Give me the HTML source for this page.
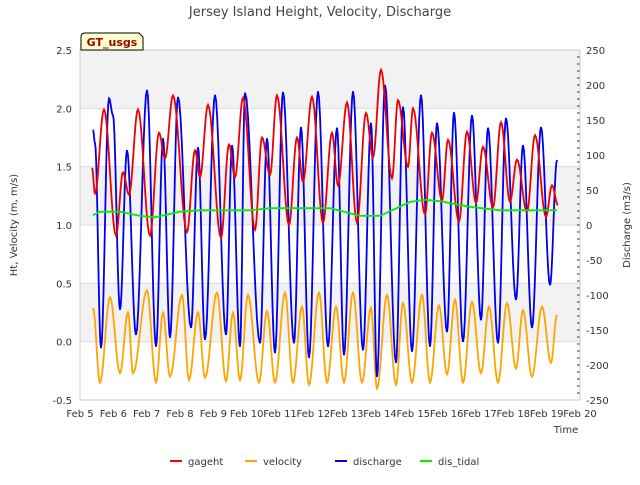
<!DOCTYPE html>
<html><head><meta charset="utf-8"><style>
body{margin:0;background:#fff;font-family:"Liberation Sans",sans-serif;}
svg text{font-family:"DejaVu Sans","Liberation Sans",sans-serif;}
</style></head><body>
<svg id="c" width="640" height="480" xmlns="http://www.w3.org/2000/svg">
<g id="bg"></g><g id="grid"></g><g id="series"></g><g id="axes"></g>
<text x="320" y="16" text-anchor="middle" font-size="13" fill="#444">Jersey Island Height, Velocity, Discharge</text>
<text transform="translate(17,225) rotate(-90)" text-anchor="middle" font-size="10" fill="#333">Ht, Velocity (m, m/s)</text>
<text transform="translate(630,225) rotate(-90)" text-anchor="middle" font-size="10" fill="#333">Discharge (m3/s)</text>
<text x="566" y="433" text-anchor="middle" font-size="10" fill="#333">Time</text>
<g>
<path d="M81,50 L81,37 Q81,33 85,33 L139,33 L143,37 L143,50 Z" fill="#ffffcc" stroke="#000" stroke-width="1"/>
<text x="112" y="46" text-anchor="middle" font-size="11" font-weight="bold" fill="#990000">GT_usgs</text></g>
<g id="legend"></g>
</svg>
<script>
const gagehtT=[5.36,5.45,5.72,6.08,6.29,6.47,6.74,7.10,7.37,7.55,7.79,8.21,8.45,8.60,8.84,9.23,9.47,9.65,9.89,10.25,10.46,10.70,10.91,11.27,11.51,11.69,11.96,12.29,12.56,12.74,13.01,13.31,13.58,13.79,14.03,14.36,14.54,14.84,14.99,15.35,15.56,15.86,16.04,16.37,16.61,16.88,17.09,17.39,17.63,17.90,18.11,18.41,18.65,18.98,19.16,19.34];
const gagehtV=[1.49,1.27,1.99,0.91,1.45,1.26,1.99,0.91,1.79,1.57,2.11,0.94,1.64,1.41,2.03,0.89,1.69,1.41,2.09,0.96,1.75,1.43,2.11,1.00,1.75,1.37,2.10,1.02,1.79,1.34,2.05,1.02,1.96,1.58,2.33,1.40,2.07,1.50,2.00,1.09,1.79,1.21,1.73,1.03,1.80,1.19,1.67,1.15,1.88,1.20,1.56,1.11,1.77,1.07,1.34,1.17];
const dischargeT=[5.39,5.45,5.63,5.87,5.99,6.20,6.41,6.68,7.01,7.28,7.49,7.70,7.94,8.33,8.54,8.75,9.05,9.38,9.56,9.80,9.95,10.40,10.61,10.85,11.09,11.42,11.63,11.87,12.14,12.44,12.71,12.92,13.19,13.49,13.73,13.91,14.15,14.48,14.69,14.96,15.23,15.50,15.71,16.01,16.22,16.49,16.76,17.03,17.24,17.54,17.78,18.08,18.29,18.56,18.83,19.10,19.31];
const dischargeV=[136,117,-176,181,157,-121,107,-157,193,-174,124,-161,183,-147,111,-164,186,-157,114,-174,189,-169,124,-183,190,-169,140,-190,191,-174,139,-186,191,-179,146,-217,200,-197,169,-181,186,-174,146,-153,161,-167,157,-136,139,-169,153,-107,114,-147,140,-86,93];
const velocityT=[5.39,5.60,5.90,6.20,6.44,6.59,7.01,7.28,7.49,7.70,8.06,8.27,8.54,8.75,9.11,9.38,9.59,9.80,10.04,10.37,10.61,10.85,11.15,11.39,11.66,11.87,12.17,12.41,12.68,12.92,13.19,13.46,13.73,13.91,14.21,14.48,14.69,14.96,15.26,15.50,15.77,16.01,16.25,16.49,16.76,17.03,17.27,17.54,17.81,18.08,18.29,18.56,18.86,19.13,19.31];
const velocityV=[0.29,-0.35,0.38,-0.27,0.25,-0.27,0.44,-0.35,0.25,-0.30,0.40,-0.33,0.25,-0.31,0.42,-0.34,0.25,-0.33,0.40,-0.35,0.26,-0.35,0.42,-0.35,0.30,-0.37,0.42,-0.35,0.30,-0.35,0.42,-0.35,0.29,-0.40,0.40,-0.37,0.33,-0.35,0.40,-0.35,0.31,-0.28,0.36,-0.35,0.34,-0.27,0.30,-0.35,0.33,-0.23,0.27,-0.30,0.30,-0.18,0.23];
const tidalT=[5.39,5.60,6.20,6.80,7.25,8.00,8.60,10.10,10.70,12.50,13.40,14.00,14.90,15.35,15.80,16.70,17.60,19.31];
const tidalV=[14,19,19,13,11,19,21,21,24,24,13,13,33,36,34,26,21,21];
const leftTicks=[-0.5,0,0.5,1,1.5,2,2.5];
const rightTicks=[-250,-200,-150,-100,-50,0,50,100,150,200,250];
const xTicks=[5,6,7,8,9,10,11,12,13,14,15,16,17,18,19,20];

const L=80,R=580,T=50,B=400,NS='http://www.w3.org/2000/svg';
const X=d=>L+(d-5)/15*(R-L);
const YL=v=>B-(v+0.5)/3*(B-T);
const YR=v=>B-(v+250)/500*(B-T);
function mk(tag,attrs,parent){const e=document.createElementNS(NS,tag);for(const k in attrs)e.setAttribute(k,attrs[k]);document.getElementById(parent).appendChild(e);return e;}

for(let i=0;i<6;i++){const lo=-0.5+i*0.5,hi=lo+0.5;if(i%2===1){const r=mk('rect',{x:L,y:YL(hi),width:R-L,height:YL(lo)-YL(hi),fill:'#f2f2f2'},'bg');

}}
leftTicks.forEach(v=>{const l=mk('line',{x1:L,x2:R,y1:YL(v),y2:YL(v),stroke:'#dcdcdc','stroke-width':1},'grid');


const t=mk('text',{x:L-8,y:YL(v)+4,'text-anchor':'end','font-size':10,fill:'#333'},'axes');t.textContent=v.toFixed(1);

});
rightTicks.forEach(v=>{const t=mk('text',{x:R+6,y:YR(v)+4,'font-size':10,fill:'#333'},'axes');t.textContent=v;

});
for(let v=-250;v<=250;v+=10){const l=mk('line',{x1:R-3,x2:R,y1:YR(v),y2:YR(v),stroke:'#333','stroke-width':1},'axes');

}
xTicks.forEach(d=>{const t=mk('text',{x:X(d),y:B+17,'text-anchor':'middle','font-size':10,fill:'#333'},'axes');t.textContent='Feb '+d;

});
const fr=mk('rect',{x:L,y:T,width:R-L,height:B-T,fill:'none',stroke:'#ccc'},'axes');



function cosPath(ts,vs,Y){let d='M'+X(ts[0]).toFixed(1)+','+Y(vs[0]).toFixed(1);
for(let i=0;i<ts.length-1;i++){for(let k=1;k<=10;k++){const f=k/10,w=(1-Math.cos(Math.PI*f))/2;
d+='L'+X(ts[i]+(ts[i+1]-ts[i])*f).toFixed(1)+','+Y(vs[i]+(vs[i+1]-vs[i])*w).toFixed(1);}}return d;}
function linPath(ts,vs,Y){return ts.map((t,i)=>(i?'L':'M')+X(t).toFixed(1)+','+Y(vs[i]).toFixed(1)).join('');}
const s1=mk('path',{d:cosPath(velocityT,velocityV,YL),fill:'none',stroke:'orange','stroke-width':1.8},'series');


const s2=mk('path',{d:cosPath(dischargeT,dischargeV,YR),fill:'none',stroke:'#0000ee','stroke-width':1.8},'series');


const s3=mk('path',{d:cosPath(gagehtT,gagehtV,YL),fill:'none',stroke:'#ee0000','stroke-width':1.8},'series');


const s4=mk('path',{d:linPath(tidalT,tidalV,YR),fill:'none',stroke:'#00ee00','stroke-width':1.8},'series');



const leg=[['gageht','#ee0000',170],['velocity','orange',245],['discharge','#0000ee',335],['dis_tidal','#00ee00',420]];
leg.forEach(([n,c,x])=>{const l=mk('line',{x1:x,x2:x+12,y1:461,y2:461,stroke:c,'stroke-width':2},'legend');


const t=mk('text',{x:x+18,y:465,'font-size':10,fill:'#333'},'legend');t.textContent=n;

});
</script>
</body></html>
